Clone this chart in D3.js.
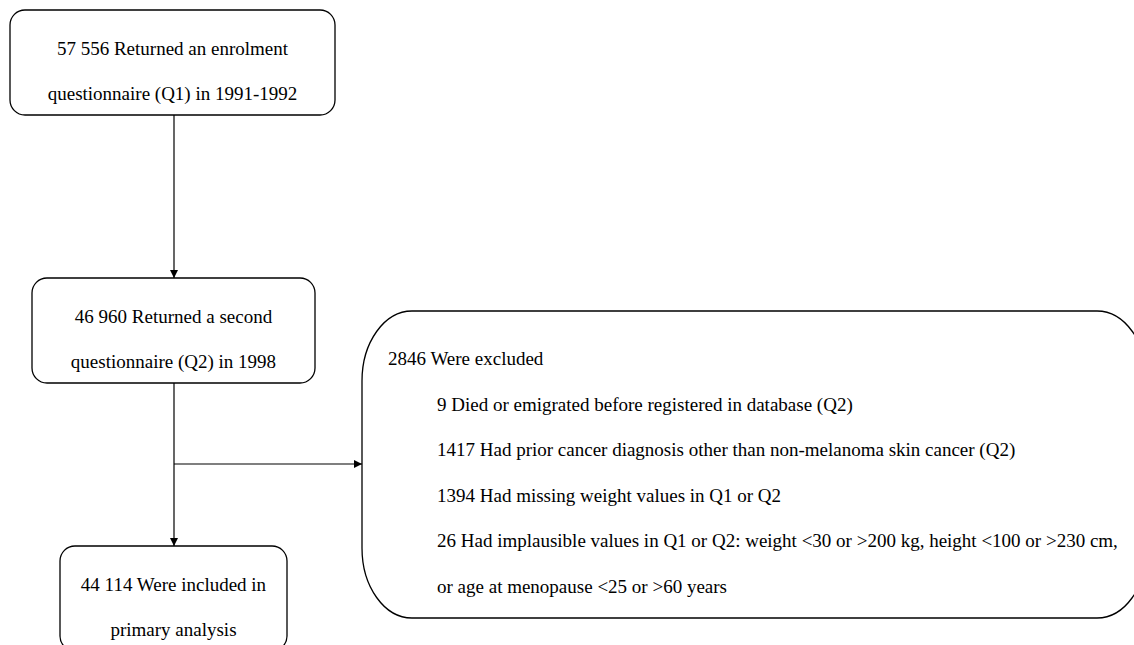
<!DOCTYPE html>
<html>
<head>
<meta charset="utf-8">
<script src="https://cdn.jsdelivr.net/npm/d3@7"></script>
<style>
  body { margin: 0; background: #fff; }
</style>
</head>
<body>
<div id="flow"></div>
<script>
// box texts, top to bottom
var stepLabels = [
    ["57 556 Returned an enrolment", "questionnaire (Q1) in 1991-1992"],
    ["46 960 Returned a second", "questionnaire (Q2) in 1998"],
    ["44 114 Were included in", "primary analysis"]
];
var excludedTitle = "2846 Were excluded";
var excludedReasons = [
    "9 Died or emigrated before registered in database (Q2)",
    "1417 Had prior cancer diagnosis other than non-melanoma skin cancer (Q2)",
    "1394 Had missing weight values in Q1 or Q2",
    "26 Had implausible values in Q1 or Q2: weight <30 or >200 kg, height <100 or >230 cm,",
    "or age at menopause <25 or >60 years"
];

var width = 1134, height = 645;
var serif = "'Liberation Serif', 'Times New Roman', Times, serif";

var svg = d3.select("#flow").append("svg")
    .attr("width", width)
    .attr("height", height)
    .attr("font-family", serif)
    .attr("font-size", 19);

svg.append("defs").append("marker")
    .attr("id", "arrow")
    .attr("viewBox", "0 0 10 10")
    .attr("refX", 10).attr("refY", 5)
    .attr("markerWidth", 8).attr("markerHeight", 8)
    .attr("markerUnits", "userSpaceOnUse")
    .attr("orient", "auto")
    .append("path")
        .attr("d", "M0,0 L10,5 L0,10 z")
        .attr("fill", "#000");

// layout of the main column
var boxes = [
    { x: 10, y: 10, w: 325, h: 105 },
    { x: 32, y: 278, w: 283, h: 105 },
    { x: 60, y: 546, w: 227, h: 105 }
];
var cx = 174;

// connectors
var links = [
    [[cx, 115], [cx, 278]],
    [[cx, 383], [cx, 546]],
    [[cx, 464], [362, 464]]
];
svg.selectAll("path.link")
    .data(links)
    .enter().append("path")
        .attr("class", "link")
        .attr("d", d3.line())
        .attr("fill", "none")
        .attr("stroke", "#000")
        .attr("stroke-width", 1.2)
        .attr("marker-end", "url(#arrow)");

var step = svg.selectAll("g.step")
    .data(stepLabels)
    .enter().append("g")
        .attr("class", "step");

step.append("rect")
    .attr("x", (d, i) => boxes[i].x)
    .attr("y", (d, i) => boxes[i].y)
    .attr("width", (d, i) => boxes[i].w)
    .attr("height", (d, i) => boxes[i].h)
    .attr("rx", 15).attr("ry", 15)
    .attr("fill", "#fff")
    .attr("stroke", "#000")
    .attr("stroke-width", 1.3);

step.selectAll("text")
    .data((d, i) => d.map((t, j) => ({ t: t, i: i, j: j })))
    .enter().append("text")
        .attr("x", d => boxes[d.i].x + boxes[d.i].w / 2)
        .attr("y", d => boxes[d.i].y + 45 + d.j * 45)
        .attr("text-anchor", "middle")
        .style("font-family", serif)
        .text(d => d.t);

// exclusion box, runs off the right edge
var ex = { x: 362, y: 311, w: 785, h: 307 };
svg.append("rect")
    .attr("x", ex.x).attr("y", ex.y)
    .attr("width", ex.w).attr("height", ex.h)
    .attr("rx", 50).attr("ry", 70)
    .attr("fill", "#fff")
    .attr("stroke", "#000")
    .attr("stroke-width", 1.3);

svg.append("text")
    .attr("x", ex.x + 26)
    .attr("y", ex.y + 54)
    .style("font-family", serif)
    .text(excludedTitle);

svg.selectAll("text.reason")
    .data(excludedReasons)
    .enter().append("text")
        .attr("class", "reason")
        .attr("x", ex.x + 75)
        .attr("y", (d, i) => ex.y + 54 + (i + 1) * 45.6)
        .style("font-family", serif)
        .text(d => d);
</script>
</body>
</html>
